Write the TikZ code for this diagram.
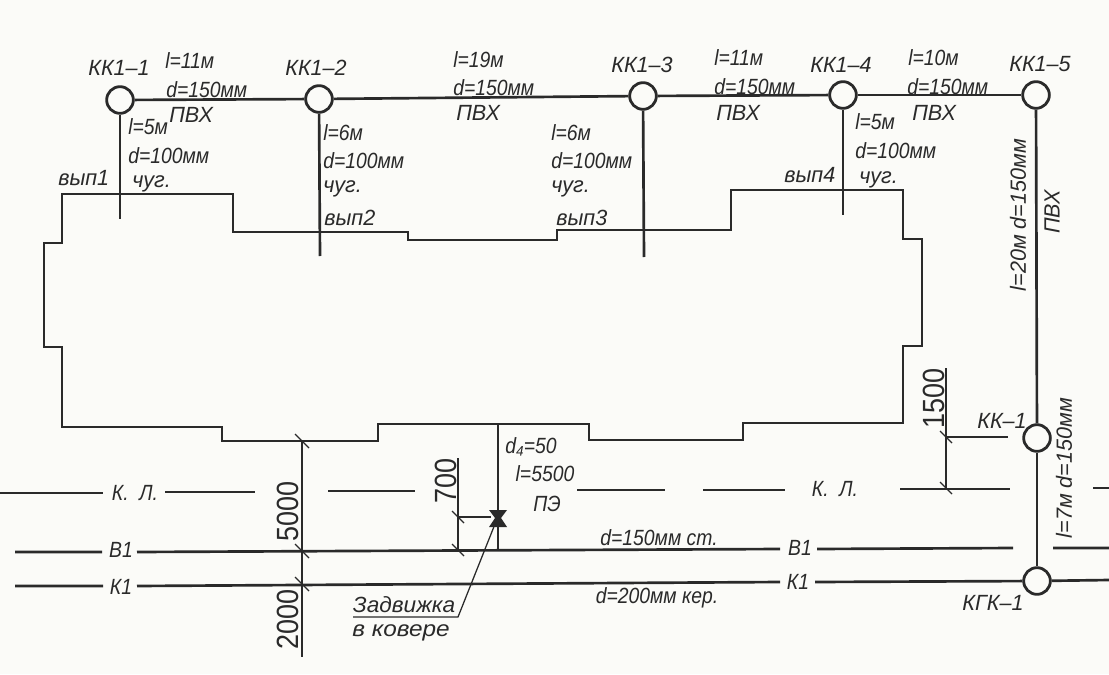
\documentclass[tikz,border=0pt]{standalone}
\usepackage{fontspec}
\usepackage{graphicx}
\setmainfont{Liberation Sans}
\newfontfamily\cadfont[FakeStretch=0.88]{Liberation Sans}
\newfontfamily\widefont[FakeStretch=0.98]{Liberation Sans}
\newfontfamily\dimfont[FakeStretch=0.88]{Liberation Sans}
\tikzset{
  every picture/.style={x=0.75pt,y=-0.75pt},
  pipe/.style={line width=2pt,draw=ink},
  wall/.style={line width=1.4pt,draw=ink},
  thin line/.style={line width=0.95pt,draw=ink},
  well/.style={circle,draw=ink,line width=2.1pt,fill=paper,minimum size=20pt,inner sep=0pt},
  lab/.style={inner sep=0pt,text=ink,font=\cadfont\fontsize{16.5}{18}\selectfont\itshape},
  llab/.style={lab,anchor=west},
  big/.style={lab},
  wlab/.style={lab,font=\widefont\fontsize{16.5}{18}\selectfont\itshape},
  wl/.style={wlab,anchor=west},
  dim/.style={inner sep=0pt,text=ink,rotate=90,font=\dimfont\fontsize{23}{25}\selectfont},
}
\definecolor{ink}{HTML}{2A2A2A}
\definecolor{paper}{HTML}{FBFBF8}
\begin{document}
\begin{tikzpicture}
\useasboundingbox (0,0) rectangle (1109,674);
\fill[paper] (0,0) rectangle (1109,674);
% building outline
\draw[wall] (62,194)--(233,194)--(233,232)--(408,232)--(408,240)--(557,240)--(557,230)--(731,230)--(731,190)--(903,190)--(903,239)--(922,239)--(922,346)--(903,346)--(903,423)--(743,423)--(743,440)--(589,440)--(589,424)--(378,424)--(378,441)--(222,441)--(222,427)--(62,427)--(62,347)--(44,347)--(44,243)--(62,243)--cycle;
% wells
\node[well] (k1) at (120,100) {};
\node[well] (k2) at (319,99) {};
\node[well] (k3) at (643,96) {};
\node[well] (k4) at (843,95) {};
\node[well] (k5) at (1036,95) {};
\node[well] (kk) at (1037,438) {};
\node[well] (kgk) at (1037,581) {};
\coordinate (e1) at (120,219);
\coordinate (e2) at (320,256);
\coordinate (e3) at (644,257);
\coordinate (e4) at (843,215);
% pipes
\draw[pipe] (k1)--(k2);
\draw[pipe] (k2)--(k3);
\draw[pipe] (k3)--(k4);
\draw[pipe] (k4)--(k5);
\draw[pipe] (k5)--(kk);
\draw[pipe] (kk)--(kgk);
\draw[pipe] (k1)--(e1);
\draw[pipe] (k2)--(e2);
\draw[pipe] (k3)--(e3);
\draw[pipe] (k4)--(e4);
% cable line
\coordinate (cl0) at (0,493); \coordinate (cl1) at (103,493);
\coordinate (cl2) at (165,492); \coordinate (cl3) at (255,492);
\coordinate (cl4) at (328,491); \coordinate (cl5) at (415,491);
\coordinate (cl6) at (577,490); \coordinate (cl7) at (665,490);
\coordinate (cl8) at (703,490); \coordinate (cl9) at (785,490);
\coordinate (cl10) at (900,489); \coordinate (cl11) at (1010,489);
\coordinate (cl12) at (1093,488); \coordinate (cl13) at (1109,488);
\draw[thin line] (cl0)--(cl1) (cl2)--(cl3) (cl4)--(cl5) (cl6)--(cl7) (cl8)--(cl9) (cl10)--(cl11) (cl12)--(cl13);
\node[big] (kl1) at (135,493) {К.\ \ Л.};
\node[big] (kl2) at (835,489) {К.\ \ Л.};
% water
\coordinate (w0) at (15,552); \coordinate (w1) at (102,552);
\coordinate (w2) at (137,552); \coordinate (w3) at (780,549);
\coordinate (w4) at (817,549); \coordinate (w5) at (1013,548);
\coordinate (w6) at (1053,548); \coordinate (w7) at (1109,548);
\draw[pipe] (w0)--(w1) (w2)--(w3) (w4)--(w5) (w6)--(w7);
\node[big] (b1a) at (121,550) {В1};
\node[big] (b1b) at (800,548) {В1};
% sewer
\coordinate (s0) at (15,586); \coordinate (s1) at (103,586);
\coordinate (s2) at (137,586); \coordinate (s3) at (780,582);
\coordinate (s4) at (815,582); \coordinate (s6) at (1109,580);
\draw[pipe] (s0)--(s1) (s2)--(s3) (s4)--(kgk) (kgk)--(s6);
\node[big] (k1a) at (121,587) {К1};
\node[big] (k1b) at (798,582) {К1};
% service pipe and valve
\coordinate (sp0) at (498,424); \coordinate (sp1) at (498,550);
\draw[pipe] (sp0)--(sp1);
\coordinate (v) at (498,518);
\fill[ink] (489,510)--(507,510)--(501,518)--(507,527)--(489,527)--(495,518)--cycle;
\coordinate (l0) at (495,524); \coordinate (l1) at (458,617); \coordinate (l2) at (353,617);
\draw[thin line] (l0)--(l1)--(l2);
\node[wlab] (z1) at (404,605) {\scalebox{1.05}[1]{Задвижка}};
\node[wlab] (z2) at (401,633) {\scalebox{1.13}[1]{в ковере}};
% dimensions
\coordinate (d0) at (302,441); \coordinate (d1) at (302,551); \coordinate (d2) at (302,584); \coordinate (d3) at (302,657);
\draw[thin line] (d0)--(d3);
\foreach \p in {d0,d1,d2} \draw[thin line] ([shift={(-7,-7)}]\p)--([shift={(7,7)}]\p);
\node[dim] (n5000) at (288,511) {5000};
\node[dim] (n2000) at (288,619) {2000};
\coordinate (a0) at (458,458); \coordinate (a1) at (458,517); \coordinate (a2) at (458,550); \coordinate (a3) at (491,517);
\draw[thin line] (a0)--(a2) (a1)--(a3);
\foreach \p in {a1,a2} \draw[thin line] ([shift={(-6,-6)}]\p)--([shift={(6,6)}]\p);
\node[dim] (n700) at (446,481) {700};
\coordinate (b0) at (946,368); \coordinate (b1) at (946,437); \coordinate (b2) at (946,488); \coordinate (b3) at (1008,437);
\draw[thin line] (b0)--(b2) (b1)--(b3);
\foreach \p in {b1,b2} \draw[thin line] ([shift={(-6,-6)}]\p)--([shift={(6,6)}]\p);
\node[dim] (n1500) at (934,398) {1500};
% well labels
\node[wlab] (t1) at (119,68) {КК1–1};
\node[wlab] (t2) at (316,68) {КК1–2};
\node[wlab] (t3) at (642,65) {КК1–3};
\node[wlab] (t4) at (841,65) {КК1–4};
\node[wlab] (t5) at (1040,64) {КК1–5};
\node[wlab] (t6) at (1002,421) {КК–1};
\node[wlab] (t7) at (993,603) {КГК–1};
% main run labels
\node[llab] at (165,61) {l=11м}; \node[llab] at (166,90) {d=150мм}; \node[wl] at (169,115) {ПВХ};
\node[llab] at (453,60) {l=19м}; \node[llab] at (453,88) {d=150мм}; \node[wl] at (456,113) {ПВХ};
\node[llab] at (714,58) {l=11м}; \node[llab] at (714,87) {d=150мм}; \node[wl] at (716,113) {ПВХ};
\node[llab] at (908,58) {l=10м}; \node[llab] at (907,87) {d=150мм}; \node[wl] at (912,113) {ПВХ};
% branch labels
\node[llab] at (128,127) {l=5м}; \node[llab] at (128,156) {d=100мм}; \node[wl] at (132,184) {чуг.};
\node[llab] at (323,133) {l=6м}; \node[llab] at (323,161) {d=100мм}; \node[wl] at (323,189) {чуг.}; \node[wl] at (324,218) {вып2};
\node[llab] at (551,133) {l=6м}; \node[llab] at (551,161) {d=100мм}; \node[wl] at (551,189) {чуг.}; \node[wl] at (556,218) {вып3};
\node[llab] at (855,122) {l=5м}; \node[llab] at (855,151) {d=100мм}; \node[wl] at (859,180) {чуг.};
\node[wl] at (58,178) {вып1};
\node[wl] at (784,175) {вып4};
% vertical labels
\node[wlab,rotate=90] at (1018,215) {l=20м d=150мм};
\node[wlab,rotate=90] at (1052,212) {ПВХ};
\node[wlab,rotate=90] at (1064,468) {l=7м d=150мм};
% service labels
\node[lab] at (531,447) {d₄=50};
\node[lab] at (545,474) {l=5500};
\node[lab] at (547,504) {ПЭ};
\node[lab] at (659,538) {d=150мм ст.};
\node[lab] at (657,598) {d=200мм кер.};
\end{tikzpicture}
\end{document}
